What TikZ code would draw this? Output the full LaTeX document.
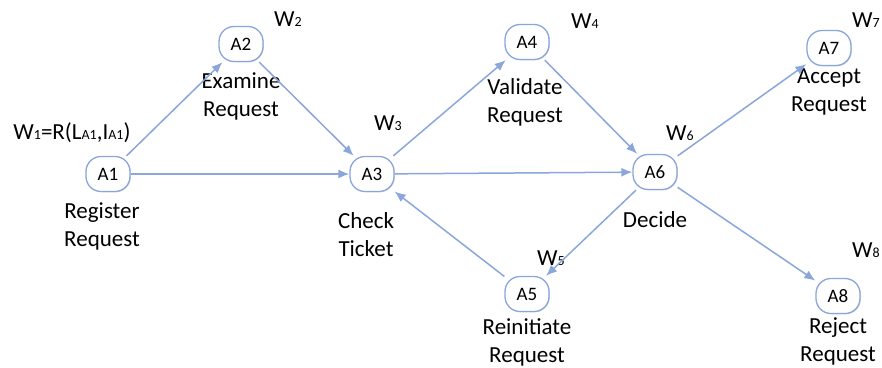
\documentclass[tikz,border=0pt]{standalone}
\usepackage{fontspec}
\setmainfont{Carlito}
\usetikzlibrary{positioning, arrows.meta, shadows}
\definecolor{flowblue}{RGB}{138,166,218}
\newcommand{\wsub}[1]{{\fontsize{14}{14}\selectfont #1}}
\tikzset{on grid, % Distances are measured between node centres
activity/.style={ % Sets the properties for each activity box
draw=flowblue, line width=1.3pt, fill=white,
rounded corners=15pt, minimum width=44pt, minimum height=35pt, inner sep=0pt,
drop shadow={shadow xshift=0.8pt, shadow yshift=-0.8pt, opacity=0.3},
font=\fontsize{19}{20}\selectfont},
caption/.style={align=center, inner sep=0pt, % Name under each activity
font=\fontsize{23}{28}\selectfont},
weight/.style={inner sep=0pt, font=\fontsize{23}{26}\selectfont},
every edge/.style={ % Sets the properties for each transition
draw=flowblue, line width=1.5pt,
-{Latex[length=11pt,width=9pt]}}}

\begin{document}
\begin{tikzpicture}[x=1pt, y=1pt]
    \useasboundingbox (0,0) rectangle (882,-367);

    \node[activity] (A1) at (108,-174) {A1};
    \node[activity, above right=130pt and 133pt of A1] (A2) {A2};
    \node[activity, right=264pt of A1] (A3) {A3};
    \node[activity, above right=132pt and 155pt of A3] (A4) {A4};
    \node[activity, below right=120pt and 155pt of A3] (A5) {A5};
    \node[activity, above right=2pt and 283pt of A3] (A6) {A6};
    \node[activity, above right=124pt and 174pt of A6] (A7) {A7};
    \node[activity, below right=124pt and 183pt of A6] (A8) {A8};

    \node[caption, below left=52pt and 6pt of A1] (A1-text) {Register\\Request};
    \node[caption, below=52pt of A2] (A2-text) {Examine\\Request};
    \node[caption, below left=61pt and 6pt of A3] (A3-text) {Check\\Ticket};
    \node[caption, below left=60pt and 2pt of A4] (A4-text) {Validate\\Request};
    \node[caption, below=48pt of A5] (A5-text) {Reinitiate\\Request};
    \node[caption, below=48pt of A6] (A6-text) {Decide};
    \node[caption, below=44pt of A7] (A7-text) {Accept\\Request};
    \node[caption, below=45pt of A8] (A8-text) {Reject\\Request};

    \node[weight, above left=41pt and 36pt of A1] (W1) {W\wsub{1}=R(L\wsub{A1},I\wsub{A1})};
    \node[weight, above right=25pt and 47pt of A2] (W2) {W\wsub{2}};
    \node[weight, above right=51pt and 16pt of A3] (W3) {W\wsub{3}};
    \node[weight, above right=21pt and 58pt of A4] (W4) {W\wsub{4}};
    \node[weight, above right=36pt and 24pt of A5] (W5) {W\wsub{5}};
    \node[weight, above right=39pt and 25pt of A6] (W6) {W\wsub{6}};
    \node[weight, above right=28pt and 37pt of A7] (W7) {W\wsub{7}};
    \node[weight, above right=46pt and 28pt of A8] (W8) {W\wsub{8}};

    \draw (A1) edge (A2) edge (A3);
    \draw (A2) edge (A3);
    \draw (A3) edge (A4) edge (A6);
    \draw (A4) edge (A6);
    \draw (A6) edge (A5) edge (A7) edge (A8);
    \draw (A5) edge (A3);

\end{tikzpicture}
\end{document}
